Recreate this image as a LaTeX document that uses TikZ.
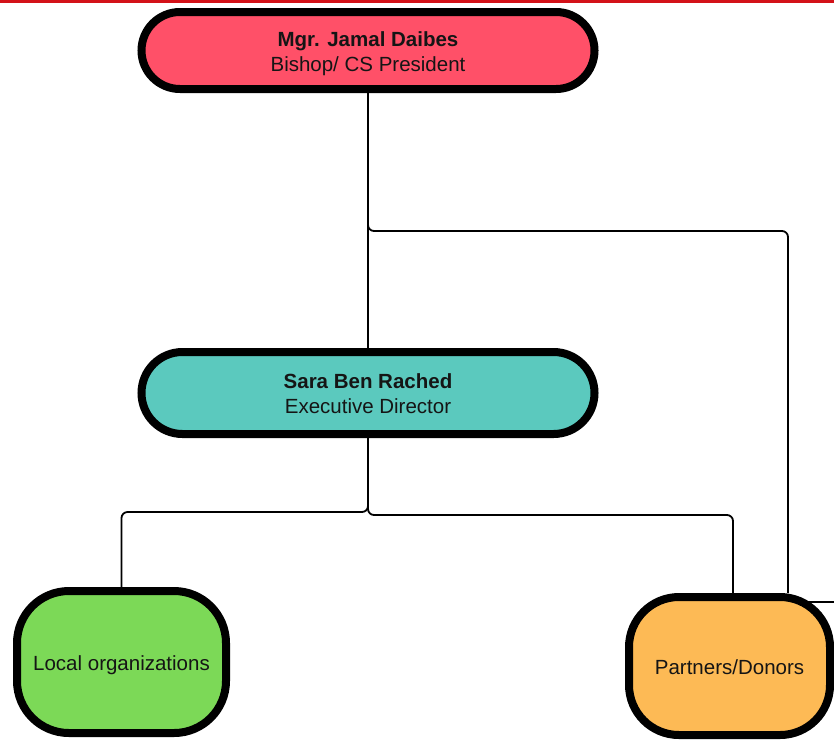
\documentclass[tikz,border=0pt]{standalone}
\usepackage{fontspec}
\setmainfont{Liberation Sans}
\usetikzlibrary{backgrounds}
\definecolor{topred}{HTML}{D31118}
\definecolor{cRed}{HTML}{FF5068}
\definecolor{cTeal}{HTML}{5BC9BE}
\definecolor{cGreen}{HTML}{7CD957}
\definecolor{cOrange}{HTML}{FDBA55}
\definecolor{txt}{HTML}{151515}
\newcommand{\dn}[1]{\raisebox{0pt}[\dimexpr\height+6pt\relax][\depth]{\begin{tabular}{@{}c@{}}#1\end{tabular}}}
\tikzset{
  box/.style={draw=black, line width=8pt, inner sep=0pt,
    text=txt, font=\fontsize{20.5}{25}\selectfont},
  conn/.style={draw=black, line width=1.8pt, rounded corners=6pt}
}
\begin{document}
\begin{tikzpicture}[x=1pt,y=-1pt]
\useasboundingbox (0,0) rectangle (834,740);
\fill[topred] (0,0) rectangle (834,3);

\node[box, fill=cRed, minimum width=453pt, minimum height=77pt, rounded corners=38.5pt]
  (top) at (368,50.5) {\dn{\textbf{Mgr. Jamal Daibes}\\Bishop/ CS President}};
\node[box, fill=cTeal, minimum width=453pt, minimum height=82pt, rounded corners=41pt]
  (mid) at (368,393) {\dn{\textbf{Sara Ben Rached}\\Executive Director}};
\node[box, fill=cGreen, minimum width=209pt, minimum height=142pt, rounded corners=52pt]
  (lo) at (121.5,662) {\dn{Local organizations}};
\node[box, fill=cOrange, minimum width=201pt, minimum height=138pt, rounded corners=50pt]
  (pd) at (729.5,666) {\dn{Partners/Donors}};

\coordinate (yt) at (0,231);
\coordinate (yl) at (0,512);
\coordinate (yr) at (0,515);
\coordinate (xa) at (788,0);
\coordinate (xb) at (733,0);
\coordinate (offR) at (834,602);

\begin{scope}[on background layer]
  \draw[conn] (top.south) -- (mid.north);
  \draw[conn] (top.south) |- (xa |- yt) -- (xa |- pd.north);
  \draw[conn] (mid.south) |- (lo.north |- yl) -- (lo.north);
  \draw[conn] (mid.south) |- (xb |- yr) -- (xb |- pd.north);
  \draw[conn] (pd.center |- offR) -- (offR);
\end{scope}
\end{tikzpicture}
\end{document}
